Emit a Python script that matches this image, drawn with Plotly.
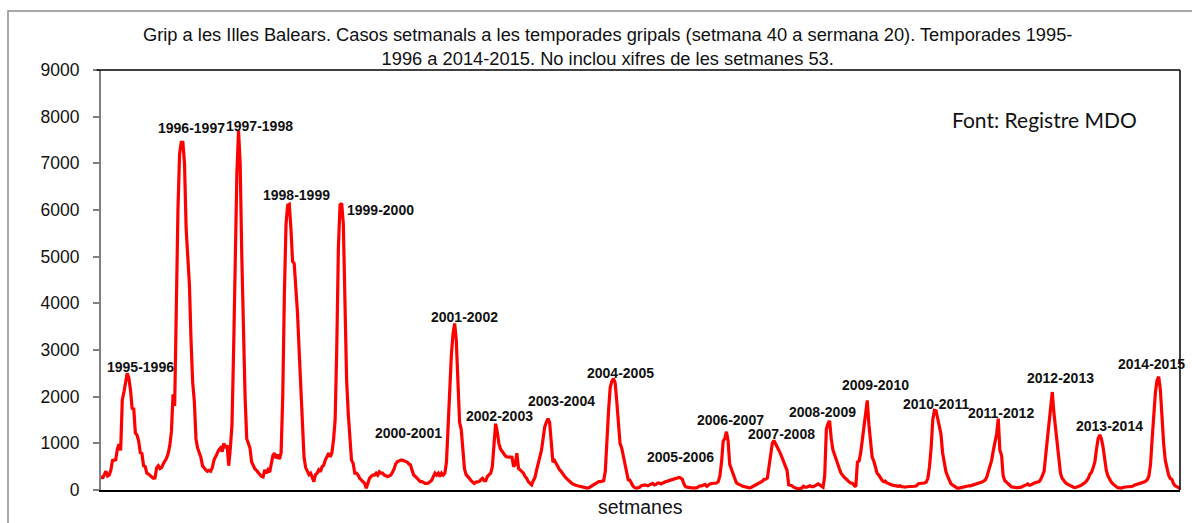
import plotly.graph_objects as go

# Seasons (setmana 40 a setmana 20, 33 weeks each)
seasons = ["1995-1996", "1996-1997", "1997-1998", "1998-1999", "1999-2000",
           "2000-2001", "2001-2002", "2002-2003", "2003-2004", "2004-2005",
           "2005-2006", "2006-2007", "2007-2008", "2008-2009", "2009-2010",
           "2010-2011", "2011-2012", "2012-2013", "2013-2014", "2014-2015"]

weeks = list(range(40, 53)) + list(range(1, 21))

s1995 = [300, 250, 330, 400, 300, 320, 420, 630, 640, 650, 880, 980, 850, 1930, 2100, 2300, 2500,
         2400, 2150, 1750, 1740, 1220, 1180, 1050, 800, 780, 520, 500, 360, 340, 300, 280, 250]
s1996 = [260, 480, 520, 460, 480, 560, 620, 680, 780, 950, 1250, 2050, 1800, 4000, 6000, 7200, 7450,
         7450, 7000, 5600, 4900, 4400, 3200, 2300, 1900, 1100, 900, 800, 700, 520, 470, 430, 400]
s1997 = [420, 400, 480, 640, 720, 800, 860, 900, 820, 1000, 900, 960, 520, 900, 1400, 3000, 5100,
         6800, 7700, 7000, 5000, 3100, 2000, 1100, 1000, 900, 600, 500, 450, 420, 380, 330, 290]
s1998 = [280, 430, 360, 430, 380, 560, 740, 790, 680, 760, 660, 800, 2000, 4200, 5700, 6100, 6120,
         5600, 4900, 4850, 4400, 3800, 3000, 2200, 1400, 700, 480, 400, 330, 360, 250, 180, 330]
s1999 = [360, 430, 390, 500, 530, 640, 710, 790, 710, 790, 1070, 1500, 3070, 5210, 6110, 6140, 5710,
         4140, 2360, 1640, 1070, 640, 570, 360, 360, 320, 250, 210, 180, 140, 40, 140, 250]
s2000 = [290, 320, 320, 360, 320, 390, 360, 360, 320, 300, 290, 300, 320, 380, 450, 560, 610,
         620, 640, 640, 630, 620, 600, 560, 540, 420, 320, 290, 250, 210, 180, 180, 150]
s2001 = [140, 140, 150, 180, 210, 290, 360, 320, 360, 290, 360, 320, 360, 600, 1500, 2300, 2900,
         3350, 3570, 3200, 2400, 1450, 1300, 900, 450, 330, 300, 250, 200, 160, 140, 170, 180]
s2002 = [180, 220, 250, 200, 200, 290, 320, 360, 500, 1100, 1420, 1250, 1000, 880, 820, 760, 730,
         710, 710, 700, 700, 500, 550, 790, 460, 430, 400, 360, 290, 250, 180, 140, 110]
s2003 = [200, 260, 420, 560, 700, 850, 1100, 1350, 1450, 1530, 1450, 950, 600, 630, 560, 480, 440,
         400, 340, 300, 260, 220, 190, 160, 130, 110, 100, 90, 80, 70, 60, 50, 40]
s2004 = [40, 50, 70, 110, 130, 150, 170, 180, 180, 190, 200, 400, 1250, 1700, 2200, 2330, 2390,
         2300, 1900, 1400, 1000, 900, 720, 520, 330, 220, 210, 130, 80, 50, 40, 50, 60]
s2005 = [90, 100, 110, 100, 90, 110, 130, 140, 110, 120, 150, 150, 130, 150, 170, 180, 190,
         200, 210, 215, 230, 250, 260, 270, 260, 230, 130, 70, 60, 60, 50, 45, 40]
s2006 = [40, 50, 70, 90, 90, 110, 120, 80, 110, 130, 140, 140, 140, 150, 180, 300, 600,
         1050, 1100, 1250, 1050, 550, 450, 350, 230, 160, 130, 120, 100, 80, 70, 50, 45]
s2007 = [45, 55, 75, 90, 100, 120, 140, 160, 190, 230, 230, 260, 550, 850, 1000, 1060, 1000,
         930, 850, 780, 700, 600, 500, 420, 110, 100, 90, 60, 40, 30, 20, 30, 40]
s2008 = [80, 60, 60, 80, 90, 70, 70, 90, 110, 130, 110, 80, 60, 300, 1300, 1420, 1480,
         1100, 860, 760, 640, 540, 450, 360, 300, 270, 240, 200, 170, 150, 140, 100, 70]
s2009 = [600, 620, 800, 1050, 1300, 1600, 1920, 1400, 1000, 700, 620, 450, 360, 320, 250, 210, 180,
         190, 150, 130, 120, 110, 100, 90, 90, 80, 90, 70, 70, 60, 70, 70, 80]
s2010 = [70, 70, 80, 90, 130, 140, 140, 140, 150, 170, 250, 500, 900, 1500, 1710, 1700, 1550,
         1420, 1200, 800, 550, 400, 300, 200, 140, 110, 80, 60, 40, 40, 50, 60, 70]
s2011 = [70, 80, 90, 90, 100, 110, 130, 130, 140, 150, 170, 190, 210, 280, 400, 500, 640,
         850, 1000, 1200, 1530, 850, 750, 300, 200, 170, 120, 90, 70, 60, 50, 50, 50]
s2012 = [50, 60, 80, 90, 110, 130, 100, 110, 140, 150, 160, 170, 180, 230, 300, 400, 750,
         1100, 1450, 1900, 2100, 1650, 1300, 900, 550, 360, 250, 200, 160, 130, 110, 90, 70]
s2013 = [60, 50, 60, 70, 90, 110, 130, 160, 200, 250, 340, 380, 480, 600, 880, 1100, 1180,
         1100, 920, 650, 420, 300, 220, 170, 130, 100, 70, 50, 45, 40, 55, 65, 70]
s2014 = [70, 70, 70, 80, 100, 110, 120, 130, 140, 150, 170, 190, 220, 300, 550, 1100, 1700,
         2100, 2350, 2430, 2150, 1450, 1000, 640, 430, 320, 250, 230, 140, 90, 70, 40, 30]

season_values = [s1995, s1996, s1997, s1998, s1999, s2000, s2001, s2002, s2003, s2004,
                 s2005, s2006, s2007, s2008, s2009, s2010, s2011, s2012, s2013, s2014]

# label placement (week offset within season, y value) for each season label
label_pos = [(24.4, 2640), (22.0, 7760), (31.1, 7800), (20.1, 6320), (39.0, 6000),
             (22.5, 1220), (23.7, 3710), (12.1, 1590), (17.0, 1910), (20.0, 2510),
             (23.7, 710), (21.2, 1500), (19.4, 1200), (11.4, 1670), (11.1, 2240),
             (14.8, 1840), (21.8, 1650), (24.8, 2400), (21.8, 1370), (14.4, 2700)]

x_all, y_all, text_all = [], [], []
n = len(weeks)
for si, (name, vals) in enumerate(zip(seasons, season_values)):
    for wi, v in enumerate(vals):
        x_all.append(si * n + wi)
        y_all.append(v)
        text_all.append(f"{name} setmana {weeks[wi]}")

fig = go.Figure()
fig.add_trace(go.Scatter(x=x_all, y=y_all, mode="lines", text=text_all,
                         line=dict(color="#FF0000", width=3.2), hoverinfo="text+y",
                         showlegend=False))

for si, name in enumerate(seasons):
    ox, oy = label_pos[si]
    fig.add_annotation(x=si * n + ox, y=oy, xref="x", yref="y", text=f"<b>{name}</b>",
                       showarrow=False, font=dict(family="Liberation Sans, Arial", size=14, color="#111"),
                       xanchor="center", yanchor="middle")

fig.add_annotation(x=0.469, y=1.0548, xref="paper", yref="paper",
                   text="Grip a les Illes Balears. Casos setmanals a les temporades gripals (setmana 40 a sermana 20). Temporades 1995-<br>1996 a 2014-2015. No inclou xifres de les setmanes 53.",
                   showarrow=False, align="center", xanchor="center", yanchor="middle",
                   font=dict(family="Liberation Sans, Arial", size=18.3, color="#111"))
fig.add_annotation(x=0.7868, y=0.881, xref="paper", yref="paper", text="Font: Registre MDO",
                   showarrow=False, xanchor="left", yanchor="middle",
                   font=dict(family="Lato, Carlito, Calibri", size=21, color="#111"))
fig.add_annotation(x=0.5, y=-0.0405, xref="paper", yref="paper", text="setmanes",
                   showarrow=False, xanchor="center", yanchor="middle",
                   font=dict(family="Liberation Sans, Arial", size=19.5, color="#111"))

# plot-area top and right border, outer chart border
fig.add_shape(type="line", xref="paper", yref="paper", x0=-0.004, x1=1, y0=1, y1=1,
              line=dict(color="#000", width=1.5))
fig.add_shape(type="line", xref="paper", yref="paper", x0=1, x1=1, y0=0, y1=1,
              line=dict(color="#000", width=1.5))
fig.add_shape(type="rect", xref="paper", yref="paper", x0=-0.0862, x1=1.03, y0=-0.2, y1=1.1405,
              line=dict(color="#8c8c8c", width=1.5), layer="below")

fig.update_xaxes(range=[0, len(x_all) - 1], showticklabels=False, ticks="", showgrid=False,
                 zeroline=False, showline=True, linecolor="#000", linewidth=1.5)
fig.update_yaxes(range=[0, 9000], dtick=1000, tick0=0, showgrid=False, zeroline=False,
                 showline=True, linecolor="#808080", linewidth=2, ticks="outside", ticklen=6,
                 tickcolor="#808080", tickwidth=1.5, ticklabelstandoff=10,
                 tickfont=dict(family="Liberation Sans, Arial", size=17.5, color="#111"))

fig.update_layout(width=1192, height=523, margin=dict(l=101, r=12, t=70, b=33),
                  plot_bgcolor="white", paper_bgcolor="white")

fig.write_html("out.html", config={"displayModeBar": False},
               post_script="document.body.style.margin='0';")
